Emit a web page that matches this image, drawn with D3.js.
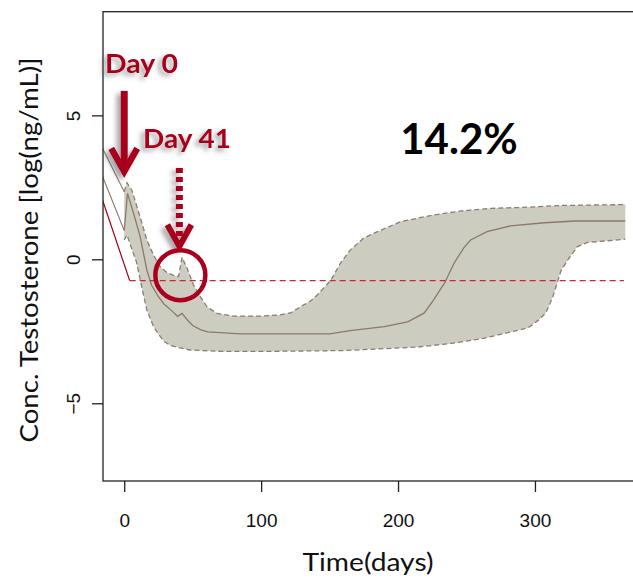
<!DOCTYPE html>
<html>
<head>
<meta charset="utf-8">
<script src="https://cdn.jsdelivr.net/npm/d3@7"></script>
<style>
  body { margin: 0; background: #fff; }
  svg { display: block; }
</style>
</head>
<body>
<svg id="chart" width="633" height="579"></svg>
<script>
// band: [day, log conc]
const upperBand = [[0,2.35],[2,2.66],[5.6,2.4],[9.3,1.83],[13,1.25],[16.5,0.67],[21.4,0.15],[26.3,-0.26],[31.2,-0.46],[36,-0.56],[39.7,-0.6],[42.2,0.07],[45.9,-0.31],[50.7,-0.9],[55.6,-1.3],[60.5,-1.65],[67.8,-1.88],[80,-1.97],[100,-1.97],[114,-1.93],[122,-1.85],[129,-1.64],[136,-1.45],[141,-1.24],[151,-0.72],[158,-0.13],[165,0.32],[175,0.74],[185,0.96],[202,1.31],[226,1.54],[246,1.68],[268,1.77],[290,1.8],[319,1.87],[366,1.9]];
const medianLine = [[0,1.0],[2.4,2.29],[6.8,1.6],[11.7,0.78],[16.5,-0.37],[20,-0.9],[25,-1.3],[29,-1.55],[35,-1.8],[39,-1.98],[42.2,-1.88],[46,-2.1],[50,-2.3],[56,-2.45],[61,-2.52],[85,-2.59],[150,-2.59],[165,-2.48],[190,-2.34],[207,-2.17],[219,-1.87],[226,-1.41],[234,-0.82],[241,-0.13],[248,0.4],[253,0.67],[265,0.96],[282,1.16],[307,1.27],[329,1.33],[366,1.33]];
const lowerBand = [[0,0.67],[2,0.85],[5.6,0.35],[9,-0.1],[11.7,-0.72],[16.5,-1.76],[21.4,-2.34],[25,-2.6],[29,-2.85],[34,-3.0],[38.5,-3.05],[48,-3.15],[72,-3.2],[100,-3.2],[160,-3.17],[214,-3.05],[239,-2.92],[263,-2.74],[295,-2.38],[303,-2.1],[308,-1.86],[313,-1.31],[319,-0.4],[324,-0.02],[331,0.44],[338,0.58],[366,0.7]];
const upperPre = [[-16,3.87],[0,2.35]];
const medianPre = [[-16,2.9],[0,1.0]];
const redPre = [[-16,2.08],[4,-0.74]];
const threshold = [[4,-0.74],[365,-0.74]];
const xTicks = [0, 100, 200, 300];
const yTicks = [-5, 0, 5];
const doseDays = [0, 41];
const doseLabels = ["Day 0", "Day 41"];
const percentLabel = "14.2%";

const svg = d3.select("#chart");
const x = d3.scaleLinear().domain([-15.5, 376]).range([103, 639]);
const y = d3.scaleLinear().domain([-7.7, 8.6]).range([481, 11.7]);

const bandBrown = "#8c7e70";
const annRed = "#a8001e";
const titleFont = "Lato, 'Open Sans', sans-serif";

const defs = svg.append("defs");
const shadow = defs.append("filter").attr("id", "shadow")
    .attr("x", "-50%").attr("y", "-50%").attr("width", "200%").attr("height", "200%");
shadow.append("feDropShadow")
    .attr("dx", -4).attr("dy", 3).attr("stdDeviation", 2.5)
    .attr("flood-color", "#555").attr("flood-opacity", 0.55);
defs.append("clipPath").attr("id", "plotclip")
    .append("rect").attr("x", 103).attr("y", 11.7).attr("width", 536).attr("height", 469.3);

const line = d3.line().x(d => x(d[0])).y(d => y(d[1]));

const plot = svg.append("g").attr("clip-path", "url(#plotclip)");

// band polygon
plot.append("path")
    .attr("d", line(upperBand.concat(lowerBand.slice().reverse())) + "Z")
    .attr("fill", "#cdccc0")
    .attr("stroke", "none");

plot.append("path").attr("d", line(upperBand))
    .attr("fill", "none").attr("stroke", bandBrown)
    .attr("stroke-width", 1.3).attr("stroke-dasharray", "5,3");
plot.append("path").attr("d", line(lowerBand))
    .attr("fill", "none").attr("stroke", bandBrown)
    .attr("stroke-width", 1.3).attr("stroke-dasharray", "5,3");
plot.append("path").attr("d", line(medianLine))
    .attr("fill", "none").attr("stroke", "#8a7a6c").attr("stroke-width", 1.3);

plot.append("path").attr("d", line(upperPre))
    .attr("fill", "none").attr("stroke", "#8a7a6c").attr("stroke-width", 1.1);
plot.append("path").attr("d", line(medianPre))
    .attr("fill", "none").attr("stroke", "#8a7a6c").attr("stroke-width", 1.1);

plot.append("path").attr("d", line(redPre))
    .attr("fill", "none").attr("stroke", "#a00010").attr("stroke-width", 1.2);
plot.append("path").attr("d", line(threshold))
    .attr("fill", "none").attr("stroke", "#b8303a")
    .attr("stroke-width", 1.3).attr("stroke-dasharray", "6,4");

// box
svg.append("rect")
    .attr("x", 103).attr("y", 11.7).attr("width", 536).attr("height", 469.3)
    .attr("fill", "none").attr("stroke", "#222").attr("stroke-width", 1.3);

// axes
const xAxis = svg.append("g")
    .attr("transform", `translate(0,481)`)
    .call(d3.axisBottom(x).tickValues(xTicks).tickSize(11).tickPadding(22));
const yAxis = svg.append("g")
    .attr("transform", `translate(103,0)`)
    .call(d3.axisLeft(y).tickValues(yTicks).tickSize(11));
[xAxis, yAxis].forEach(g => {
    g.select(".domain").remove();
    g.selectAll("line").attr("stroke", "#222").attr("stroke-width", 1.3);
    g.selectAll("text")
        .attr("fill", "#111")
        .style("font-family", "'Liberation Sans', Arial, sans-serif")
        .style("font-size", "19px");
});
// y labels rotated like R's default
yAxis.selectAll(".tick text")
    .attr("x", null).attr("dy", null)
    .attr("text-anchor", "middle")
    .attr("transform", "translate(-30,0) rotate(-90)")
    .attr("dy", "0.36em");

// axis titles
svg.append("text")
    .attr("x", 368).attr("y", 571)
    .attr("text-anchor", "middle")
    .attr("textLength", 131).attr("lengthAdjust", "spacingAndGlyphs")
    .style("font-family", titleFont)
    .style("font-size", "25px")
    .attr("fill", "#111")
    .text("Time(days)");
svg.append("text")
    .attr("transform", "translate(38,250) rotate(-90)")
    .attr("text-anchor", "middle")
    .attr("textLength", 385).attr("lengthAdjust", "spacingAndGlyphs")
    .style("font-family", titleFont)
    .style("font-size", "25px")
    .attr("fill", "#111")
    .text("Conc. Testosterone [log(ng/mL)]");

// percentage
svg.append("text")
    .attr("x", 459).attr("y", 154)
    .attr("text-anchor", "middle")
    .style("font-family", titleFont)
    .style("font-weight", "bold")
    .style("font-size", "42px")
    .attr("fill", "#000")
    .text(percentLabel);

// annotations
const ann = svg.append("g");
// Day 0 solid arrow
const x0 = x(doseDays[0]);
const a0 = ann.append("g").attr("filter", "url(#shadow)");
a0.append("line")
    .attr("x1", x0).attr("x2", x0)
    .attr("y1", y(5.85)).attr("y2", y(3.1))
    .attr("stroke", annRed).attr("stroke-width", 7);
a0.append("polyline")
    .attr("points", [[x0 - 13, y(3.85)], [x0, y(3.05)], [x0 + 13, y(3.85)]].join(" "))
    .attr("fill", "none").attr("stroke", annRed).attr("stroke-width", 6.5)
    .attr("stroke-linejoin", "miter");
ann.append("text")
    .attr("x", 105).attr("y", 73)
    .attr("textLength", 73).attr("lengthAdjust", "spacingAndGlyphs")
    .attr("filter", "url(#shadow)")
    .style("font-family", titleFont)
    .style("font-weight", "bold")
    .style("font-size", "27px")
    .attr("fill", annRed)
    .text(doseLabels[0]);

// Day 41 dotted arrow
const xa = x(doseDays[1]) - 1;
const a1 = ann.append("g").attr("filter", "url(#shadow)");
a1.append("line")
    .attr("x1", xa).attr("x2", xa)
    .attr("y1", y(3.17)).attr("y2", y(0.5))
    .attr("stroke", annRed).attr("stroke-width", 7)
    .attr("stroke-dasharray", "5,4");
a1.append("polyline")
    .attr("points", [[xa - 12, y(1.2)], [xa, y(0.45)], [xa + 12, y(1.2)]].join(" "))
    .attr("fill", "none").attr("stroke", annRed).attr("stroke-width", 6)
    .attr("stroke-linejoin", "miter");
ann.append("circle")
    .attr("cx", x(doseDays[1])).attr("cy", y(-0.55)).attr("r", 25)
    .attr("fill", "none").attr("stroke", annRed).attr("stroke-width", 4.5);
ann.append("text")
    .attr("x", 143).attr("y", 148)
    .attr("textLength", 88).attr("lengthAdjust", "spacingAndGlyphs")
    .attr("filter", "url(#shadow)")
    .style("font-family", titleFont)
    .style("font-weight", "bold")
    .style("font-size", "27px")
    .attr("fill", annRed)
    .text(doseLabels[1]);
</script>
</body>
</html>
